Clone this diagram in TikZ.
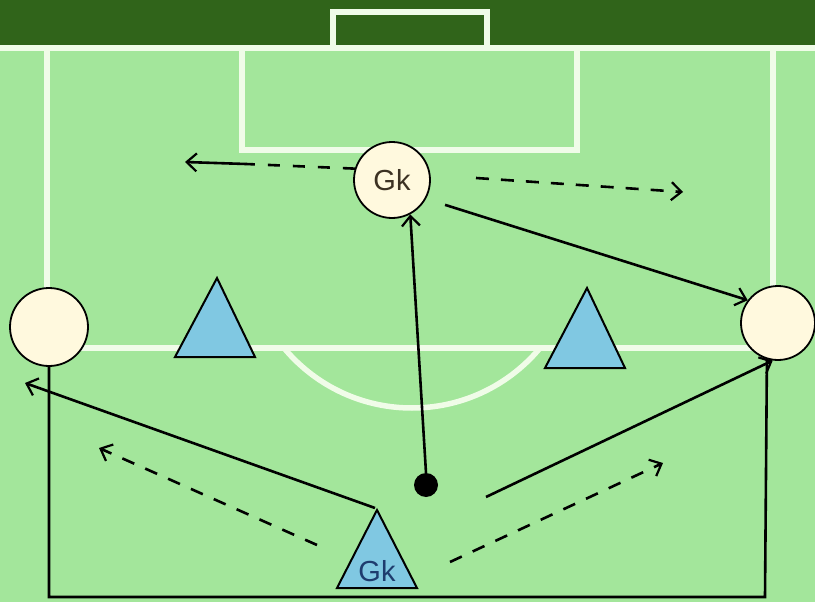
\documentclass[tikz,border=0pt]{standalone}
\usepackage{fontspec}
\newfontfamily\arial{Liberation Sans}
\usetikzlibrary{arrows.meta}
\definecolor{darkpitch}{RGB}{48,100,26}
\definecolor{pitch}{RGB}{163,230,155}
\definecolor{chalk}{RGB}{240,252,232}
\definecolor{cream}{RGB}{255,249,222}
\definecolor{cone}{RGB}{128,200,226}
\definecolor{gktext}{RGB}{60,50,35}
\definecolor{gkblue}{RGB}{30,60,110}
\tikzset{
  chalkline/.style={draw=chalk,line width=5.5pt},
  player/.style={circle,draw=black,line width=1.8pt,fill=cream,inner sep=0pt,font=\arial\fontsize{29}{31}\selectfont,text=gktext},
  conefill/.style={draw=black,line width=2pt,fill=cone,line join=miter},
  run/.style={draw=black,line width=2.6pt,-{Straight Barb[length=10pt,width=18pt,line width=2.2pt]}},
  dribble/.style={run,dash pattern=on 13pt off 12pt},
  outline/.style={draw=black,line width=2.6pt}
}
\begin{document}
\begin{tikzpicture}[x=1pt,y=-1pt]
\useasboundingbox (0,0) rectangle (815,602);
% pitch
\fill[pitch] (0,0) rectangle (815,602);
\fill[darkpitch] (0,0) rectangle (815,46);
% chalk lines
\draw[chalkline] (333,48) -- (333,12) -- (487,12) -- (487,48);
\draw[chalkline] (0,48) -- (815,48);
\draw[chalkline] (47,48) -- (47,300);
\draw[chalkline] (773,48) -- (773,300);
\draw[chalkline] (242,48) -- (242,150) -- (577,150) -- (577,48);
\draw[chalkline] (47,348) -- (773,348);
\begin{scope}
  \clip (0,349) rectangle (815,450);
  \draw[chalkline] (412,241.5) circle[radius=166.5];
\end{scope}
% cones
\draw[conefill] (175,357) -- (217,278) -- (255,357) -- cycle;
\draw[conefill] (545,368) -- (587,288) -- (625,368) -- cycle;
\draw[conefill] (337,588) -- (377,510) -- (417,588) -- cycle;
\node[font=\arial\fontsize{29}{31}\selectfont,text=gkblue,inner sep=0pt] (gkcone) at (377,571) {Gk};
\coordinate (apex) at (375,508);
% players
\node[player,minimum size=76pt] (GK) at (392,180) {Gk};
\node[player,minimum size=78pt] (L) at (49,327) {};
\node[player,minimum size=74pt] (R) at (778,323) {};
% ball
\node[circle,fill=black,minimum size=24pt,inner sep=0pt] (ball) at (426,485) {};
% free ends
\coordinate (gl) at (185,162);
\coordinate (glmid) at (246,164);
\coordinate (gr1) at (476,178);
\coordinate (gr2) at (683,192);
\coordinate (ltip) at (25,383);
\coordinate (rstart) at (486,497);
\coordinate (dl1) at (317,545);
\coordinate (dl2) at (99,448);
\coordinate (dr1) at (450,562);
\coordinate (dr2) at (663,463);
% outline along the bottom
\draw[outline] (L.south) |- (765,597) -- (R.-107);
% connectors
\draw[run] (ball.north) -- (GK.-62);
\draw[draw=black,line width=2.6pt,dash pattern=on 12pt off 13pt] (GK.163) -- (glmid);
\draw[run] (glmid) -- (gl);
\draw[dribble] (gr1) -- (gr2);
\draw[run,shorten <=20pt] (GK.-29) -- (R.143);
\draw[run] (apex) -- (ltip);
\draw[run] (rstart) -- (R.-98);
\draw[dribble] (dl1) -- (dl2);
\draw[dribble] (dr1) -- (dr2);
\end{tikzpicture}
\end{document}
